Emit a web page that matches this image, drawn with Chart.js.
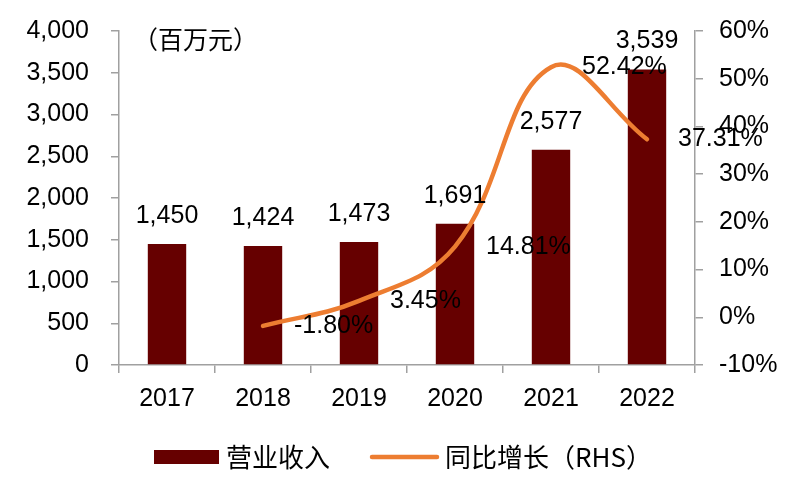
<!DOCTYPE html>
<html>
<head>
<meta charset="utf-8">
<script src="https://cdn.jsdelivr.net/npm/chart.js@4/dist/chart.umd.min.js"></script>
<style>
  body { margin: 0; background: #fff; }
  #wrap { width: 811px; height: 483px; }
</style>
</head>
<body>
<div id="wrap"><canvas id="chart" width="811" height="483"></canvas></div>
<script>
// categories and series
const years = ['2017', '2018', '2019', '2020', '2021', '2022'];
const revenue = [1450, 1424, 1473, 1691, 2577, 3539];
const growth = [null, -1.80, 3.45, 14.81, 52.42, 37.31];
const unitLabel = '（百万元）';
const barName = '营业收入';
const lineName = '同比增长（RHS）';

const barColor = '#660000';
const lineColor = '#ED7D31';
const axisColor = '#a0a0a0';
const numFont = '"Liberation Sans", Arial, sans-serif';
const cjkFont = '"Noto Sans CJK SC", sans-serif';

//draws value labels, unit text and the legend
const labelPlugin = {
  id: 'labels',
  afterDatasetsDraw(chart) {
    const ctx = chart.ctx;
    ctx.save();
    ctx.fillStyle = '#000';
    ctx.font = '25px ' + numFont;
    // bar labels above the bars
    ctx.textAlign = 'center';
    ctx.textBaseline = 'alphabetic';
    chart.getDatasetMeta(0).data.forEach((bar, i) => {
      ctx.fillText(revenue[i].toLocaleString('en-US'), bar.x, bar.y - 21);
    });
    // growth labels, to the right of each point
    ctx.textAlign = 'left';
    ctx.textBaseline = 'middle';
    chart.getDatasetMeta(1).data.forEach((pt, i) => {
      if (growth[i] === null) return;
      ctx.fillText(growth[i].toFixed(2) + '%', pt.x + 31, pt.y);
    });
    // unit text
    ctx.font = '25px ' + cjkFont;
    ctx.fillText(unitLabel, 133, 39);
    // legend
    ctx.fillStyle = barColor;
    ctx.fillRect(154, 450, 65, 14);
    ctx.fillStyle = '#000';
    ctx.font = '26px ' + cjkFont;
    ctx.fillText(barName, 226, 457);
    ctx.strokeStyle = lineColor;
    ctx.lineWidth = 4.5;
    ctx.lineCap = 'round';
    ctx.beginPath();
    ctx.moveTo(372, 457);
    ctx.lineTo(437, 457);
    ctx.stroke();
    ctx.fillText(lineName, 445, 457);
    ctx.restore();
  }
};

const axisGrid = {
  drawOnChartArea: false,
  drawTicks: true,
  tickLength: 8,
  color: axisColor,
  lineWidth: 1.5,
};

//fixed axis width, no extra top padding from tick labels
const fitY = (w) => (s) => {
  s.width = w;
  s.paddingTop = 0;
  s.paddingBottom = 0;
};

new Chart(document.getElementById('chart'), {
  type: 'bar',
  plugins: [labelPlugin],
  data: {
    labels: years,
    datasets: [
      {
        label: barName,
        data: revenue,
        backgroundColor: barColor,
        borderWidth: 0,
        categoryPercentage: 1,
        barPercentage: 0.4,
        yAxisID: 'y',
        order: 2,
      },
      {
        type: 'line',
        label: lineName,
        data: growth,
        borderColor: lineColor,
        borderWidth: 4.5,
        borderCapStyle: 'round',
        tension: 0.4,
        pointRadius: 0,
        fill: false,
        yAxisID: 'y1',
        order: 1,
      },
    ],
  },
  options: {
    responsive: false,
    animation: false,
    layout: { padding: { top: 31, bottom: 0, left: 0, right: 0 } },
    plugins: {
      legend: { display: false },
      tooltip: { enabled: false },
    },
    scales: {
      x: {
        grid: Object.assign({ offset: true }, axisGrid),
        border: { color: axisColor, width: 1.5 },
        ticks: { color: '#000', font: { size: 25, family: numFont }, padding: 11 },
        afterFit: (s) => { s.height = 118; },
      },
      y: {
        position: 'left',
        min: 0,
        max: 4000,
        grid: axisGrid,
        border: { color: axisColor, width: 1.5 },
        ticks: {
          stepSize: 500,
          color: '#000',
          padding: 22,
          font: { size: 25, family: numFont },
          callback: (v) => v.toLocaleString('en-US'),
        },
        afterFit: fitY(119),
      },
      y1: {
        position: 'right',
        min: -10,
        max: 60,
        grid: axisGrid,
        border: { color: axisColor, width: 1.5 },
        ticks: {
          stepSize: 10,
          color: '#000',
          padding: 16,
          font: { size: 25, family: numFont },
          callback: (v) => v + '%',
        },
        afterFit: fitY(116),
      },
    },
  },
});
</script>
</body>
</html>
